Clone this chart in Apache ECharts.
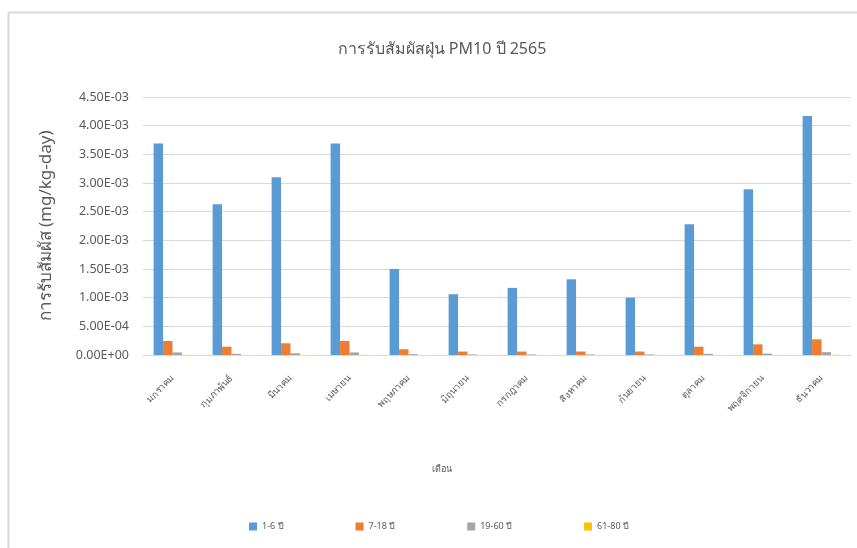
<!DOCTYPE html>
<html>
<head>
<meta charset="utf-8">
<script src="https://cdn.jsdelivr.net/npm/echarts@6/dist/echarts.min.js"></script>
<style>
  html, body { margin: 0; padding: 0; background: #fff; }
  #chart { width: 857px; height: 548px; }
</style>
</head>
<body>
<div id="chart"></div>
<script>
// เดือน
var months = ["มกราคม", "กุมภาพันธ์", "มีนาคม", "เมษายน", "พฤษภาคม", "มิถุนายน",
  "กรกฎาคม", "สิงหาคม", "กันยายน", "ตุลาคม", "พฤศจิกายน", "ธันวาคม"];

var seriesNames = ["1-6 ปี", "7-18 ปี", "19-60 ปี", "61-80 ปี"];

// ค่าการรับสัมผัส (mg/kg-day) อ่านจากภาพ
var age1to6 = [3.69e-3, 2.63e-3, 3.10e-3, 3.69e-3, 1.50e-3, 1.06e-3, 1.17e-3, 1.32e-3, 1.00e-3, 2.28e-3, 2.89e-3, 4.17e-3];
var age7to18 = [2.44e-4, 1.45e-4, 2.04e-4, 2.44e-4, 1.00e-4, 6.0e-5, 6.0e-5, 6.0e-5, 6.0e-5, 1.45e-4, 1.86e-4, 2.73e-4];
var age19to60 = [4.5e-5, 2.0e-5, 3.0e-5, 4.5e-5, 1.5e-5, 1.0e-5, 1.0e-5, 1.0e-5, 1.0e-5, 2.0e-5, 2.5e-5, 5.0e-5];
var age61to80 = [2e-6, 1e-6, 2e-6, 2e-6, 1e-6, 1e-6, 1e-6, 1e-6, 1e-6, 1e-6, 1e-6, 2e-6];

var colors = ["#5B9BD5", "#ED7D31", "#A5A5A5", "#FFC000"];
var font = "Noto Sans, DejaVu Sans, sans-serif";

function sci(v) {
  // 4.50E-03 style
  var s = Number(v).toExponential(2).split("e");
  var exp = parseInt(s[1], 10);
  var sign = exp < 0 ? "-" : "+";
  var abs = Math.abs(exp);
  return s[0] + "E" + sign + (abs < 10 ? "0" + abs : abs);
}

function bar(name, data, color) {
  return {
    name: name,
    type: "bar",
    data: data,
    barGap: 0,
    barCategoryGap: "36%",
    itemStyle: { color: color }
  };
}

var chart = echarts.init(document.getElementById("chart"));
chart.setOption({
  backgroundColor: "#fff",
  textStyle: { fontFamily: font },
  title: {
    text: "การรับสัมผัสฝุ่น PM10 ปี 2565",
    left: 437,
    textAlign: "center",
    top: 36,
    textStyle: { fontSize: 16, fontWeight: "normal", color: "#595959", fontFamily: font }
  },
  legend: {
    bottom: 12,
    left: 244,
    itemGap: 72,
    itemWidth: 8,
    itemHeight: 8,
    icon: "rect",
    textStyle: { fontSize: 9, color: "#595959" },
    data: seriesNames
  },
  grid: { left: 143, right: 6, top: 97, bottom: 193 },
  xAxis: {
    type: "category",
    data: months,
    name: "เดือน",
    nameLocation: "middle",
    nameGap: 110,
    nameTextStyle: { fontSize: 9, color: "#595959", padding: [0, 110, 0, 0] },
    axisLine: { lineStyle: { color: "#D9D9D9" } },
    axisTick: { show: false },
    axisLabel: { rotate: 45, fontSize: 9.5, color: "#595959", margin: 22, interval: 0 }
  },
  yAxis: {
    type: "value",
    min: 0,
    max: 0.0045,
    interval: 0.0005,
    name: "การรับสัมผัส (mg/kg-day)",
    nameLocation: "middle",
    nameGap: 88,
    nameTextStyle: { fontSize: 17, color: "#595959" },
    axisLine: { show: false },
    axisTick: { show: false },
    splitLine: { lineStyle: { color: "#D9D9D9", width: 1 } },
    axisLabel: { fontSize: 12.5, color: "#595959", margin: 14, formatter: sci }
  },
  graphic: [
    { type: "line", shape: { x1: 8.5, y1: 12.5, x2: 857, y2: 12.5 }, style: { stroke: "#D9D9D9", lineWidth: 2 } },
    { type: "line", shape: { x1: 8.5, y1: 12.5, x2: 8.5, y2: 548 }, style: { stroke: "#D9D9D9", lineWidth: 2 } }
  ],
  series: [
    bar(seriesNames[0], age1to6, colors[0]),
    bar(seriesNames[1], age7to18, colors[1]),
    bar(seriesNames[2], age19to60, colors[2]),
    bar(seriesNames[3], age61to80, colors[3])
  ]
});
</script>
</body>
</html>
